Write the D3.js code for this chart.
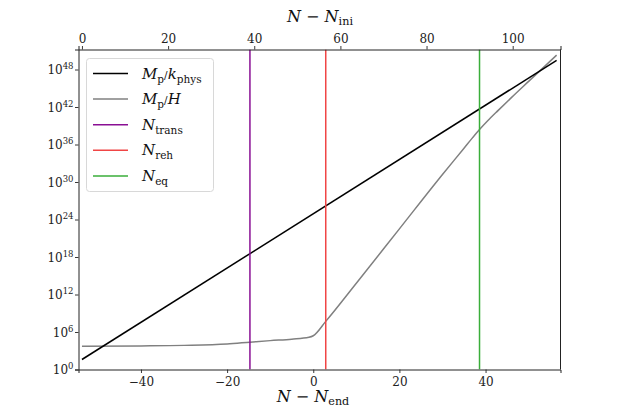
<!DOCTYPE html>
<html><head><meta charset="utf-8">
<script src="https://cdn.jsdelivr.net/npm/d3@7"></script>
<style>body{margin:0;background:#fff}svg{display:block}</style>
</head><body>
<script>
// ---- data ----
const offsetEndIni = 53.7; // N_end - N_ini
const xDomainEnd = [-54.5, 57.4];
const topTicks = [0, 20, 40, 60, 80, 100];
const bottomTicks = [-40, -20, 0, 20, 40];
const yTickExps = [0, 6, 12, 18, 24, 30, 36, 42, 48];
const yMaxExp = 51.2;
// M_p/k_phys (N - N_end, log10 value)
const kN = [-53.7, 56.5];
const kLog = [1.6, 49.46];
// M_p/H
const hN = [-53.7, -40, -30, -20, -14.7, -10, -5, -1, 0, 2.9, 10, 20, 30, 35, 37, 38.6, 40.5, 43, 46, 50, 56.5];
const hLog = [3.73, 3.78, 3.86, 4.08, 4.37, 4.62, 4.85, 5.15, 5.4, 7.7, 13.8, 22.5, 31.2, 35.4, 37.1, 38.4, 39.8, 41.5, 43.5, 46.1, 50.3];
const vNames = ["trans", "reh", "eq"];
const vPos = [-14.7, 2.9, 38.6];
const vColors = ["#8a0f94", "#f04545", "#3aae3a"];

const W = 623, H = 415;
const m = {l: 78.5, r: 560.5, t: 49.5, b: 369.5};
const svg = d3.select("body").append("svg").attr("width", W).attr("height", H);
const x = d3.scaleLinear().domain(xDomainEnd).range([m.l, m.r]);
const xTop = d3.scaleLinear().domain(xDomainEnd.map(d => d + offsetEndIni)).range([m.l, m.r]);
const y = d3.scaleLog().domain([1, Math.pow(10, yMaxExp)]).range([m.b, m.t]);
const serif = "DejaVu Serif";

svg.append("clipPath").attr("id", "c").append("rect").attr("x", m.l).attr("y", m.t).attr("width", m.r - m.l).attr("height", m.b - m.t);
const plot = svg.append("g").attr("clip-path", "url(#c)");

const line = d3.line().curve(d3.curveMonotoneX).x(d => x(d[0])).y(d => y(Math.pow(10, d[1])));
plot.append("path").datum(hN.map((n, i) => [n, hLog[i]])).attr("d", line)
  .attr("fill", "none").attr("stroke", "#808080").attr("stroke-width", 1.5);
plot.append("path").datum(kN.map((n, i) => [n, kLog[i]])).attr("d", line)
  .attr("fill", "none").attr("stroke", "#000").attr("stroke-width", 1.5);
vPos.forEach((v, i) => {
  plot.append("line").attr("x1", x(v)).attr("x2", x(v)).attr("y1", m.t).attr("y2", m.b)
    .attr("stroke", vColors[i]).attr("stroke-width", 1.5);
});

// axes
const bAx = svg.append("g").attr("transform", `translate(0,${m.b})`)
  .call(d3.axisBottom(x).tickValues(bottomTicks).tickSize(3.5).tickPadding(4).tickFormat(d => d < 0 ? "\u2212" + Math.abs(d) : d));
const tAx = svg.append("g").attr("transform", `translate(0,${m.t})`)
  .call(d3.axisTop(xTop).tickValues(topTicks).tickSize(3.5).tickPadding(3).tickFormat(d => d));
const lAx = svg.append("g").attr("transform", `translate(${m.l},0)`)
  .call(d3.axisLeft(y).tickValues(yTickExps.map(e => Math.pow(10, e))).tickSize(3.5).tickFormat(""));
svg.append("line").attr("x1", m.r).attr("x2", m.r).attr("y1", m.t).attr("y2", m.b).attr("stroke", "#222").attr("stroke-width", 1);
[bAx, tAx, lAx].forEach(a => {
  a.attr("font-family", serif);
  a.select(".domain").attr("stroke", "#222").attr("stroke-width", 1);
  a.selectAll(".tick line").attr("stroke", "#222").attr("stroke-width", 0.9);
  a.selectAll("text").attr("font-family", serif).attr("font-size", 12).attr("fill", "#222");
});
// y tick labels with superscripts
yTickExps.forEach(e => {
  const t = svg.append("text").attr("x", m.l - 5).attr("y", y(Math.pow(10, e)) + 4.5)
    .attr("text-anchor", "end").attr("font-family", serif).attr("font-size", 12).attr("fill", "#222");
  t.append("tspan").text("10");
  t.append("tspan").attr("dy", -5).attr("font-size", 8.5).text(e);
});

function mathText(sel, parts, size) {
  parts.forEach(p => {
    const ts = sel.append("tspan").text(p.t);
    if (p.i) ts.attr("font-style", "italic");
    if (p.sub) ts.attr("font-size", size * 0.7).attr("dy", p.sub);
  });
  return sel;
}
// axis labels
mathText(svg.append("text").attr("x", 313).attr("y", 402).attr("text-anchor", "middle")
  .attr("font-family", serif).attr("font-size", 16).attr("fill", "#111"),
  [{t: "N", i: 1}, {t: " \u2212 "}, {t: "N", i: 1}, {t: "end", sub: 3}], 16);
mathText(svg.append("text").attr("x", 320).attr("y", 22).attr("text-anchor", "middle")
  .attr("font-family", serif).attr("font-size", 16).attr("fill", "#111"),
  [{t: "N", i: 1}, {t: " \u2212 "}, {t: "N", i: 1}, {t: "ini", sub: 3}], 16);

// legend
const lg = svg.append("g");
lg.append("rect").attr("x", 86.5).attr("y", 58.5).attr("width", 127).attr("height", 133).attr("rx", 3)
  .attr("fill", "#fff").attr("fill-opacity", 0.8).attr("stroke", "#d8d8d8").attr("stroke-width", 1);
const legItems = [
  {c: "#000", parts: [{t: "M", i: 1}, {t: "p", sub: 4}, {t: "/", sub: -4}, {t: "k", i: 1}, {t: "phys", sub: 4}]},
  {c: "#808080", parts: [{t: "M", i: 1}, {t: "p", sub: 4}, {t: "/", sub: -4}, {t: "H", i: 1}]},
];
vNames.forEach((n, i) => legItems.push({c: vColors[i], parts: [{t: "N", i: 1}, {t: n, sub: 4}]}));
legItems.forEach((it, i) => {
  const yy = 73.5 + i * 25.6;
  lg.append("line").attr("x1", 93).attr("x2", 128).attr("y1", yy).attr("y2", yy).attr("stroke", it.c).attr("stroke-width", 1.5);
  mathText(lg.append("text").attr("x", 142).attr("y", yy + 5).attr("font-family", serif).attr("font-size", 15).attr("fill", "#111"), it.parts, 15);
});
</script>
</body></html>
